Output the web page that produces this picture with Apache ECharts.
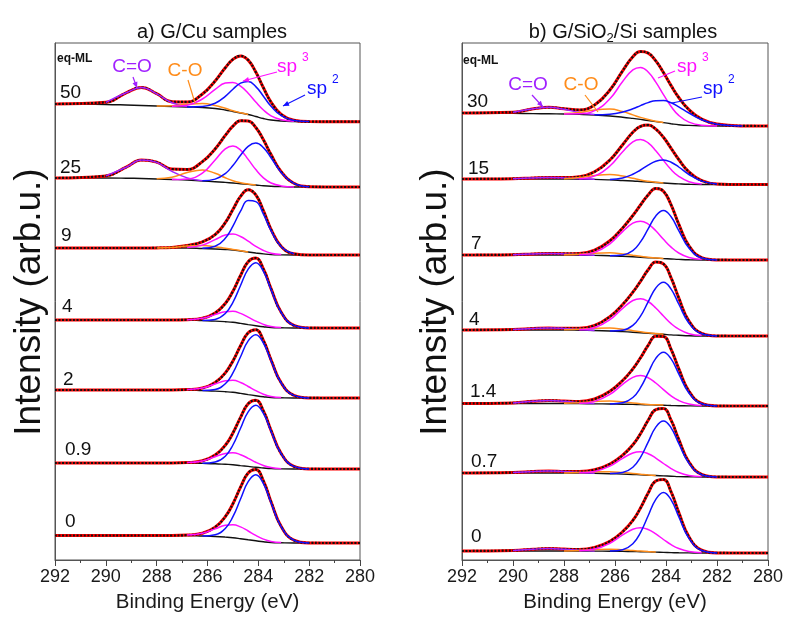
<!DOCTYPE html>
<html>
<head>
<meta charset="utf-8">
<title>C 1s spectra</title>
<script src="https://cdn.jsdelivr.net/npm/echarts@6/dist/echarts.min.js"></script>
<style>
  html, body { margin: 0; padding: 0; background: #fff; }
  #chart { width: 791px; height: 625px; }
</style>
</head>
<body>
<div id="chart"></div>
<script>
// binding energy samples (eV), shared by every curve
const energy = [292, 290, 289.2, 288.6, 288, 287.4, 286.8, 286.2, 285.7, 285.3, 285.0, 284.7, 284.4, 284.1, 283.8, 283.5, 283.1, 282.6, 282, 281, 280]

// ---- a) G/Cu samples, top to bottom ----
const cuLabels = ['50', '25', '9', '4', '2', '0.9', '0']
// background line (already includes the vertical offset of each spectrum)
const cuBackground = [
  [456, 455.5, 455, 454.5, 454, 453.5, 453, 452.5, 451.5, 450, 448.5, 447, 445.5, 443.5, 441.5, 440, 439, 438.5, 438.3, 438.3, 438.3],
  [382, 382, 381.8, 381.5, 381, 380.5, 380, 379, 378.3, 377.6, 377, 376.3, 375.6, 375, 374.3, 373.8, 373.4, 373, 373, 373, 373],
  [312, 312, 312, 312, 312, 312, 312, 311.5, 311, 310.5, 310, 309, 308, 307, 306.1, 305.4, 305.1, 305, 305, 305, 305],
  [240, 240, 240, 240, 240, 240, 240, 239.4, 238.9, 238.3, 237.7, 236.6, 235.4, 234.3, 233.3, 232.5, 232.2, 232, 232, 232, 232],
  [170, 170, 170, 170, 170, 170, 170, 169.4, 168.9, 168.3, 167.7, 166.6, 165.4, 164.3, 163.3, 162.5, 162.2, 162, 162, 162, 162],
  [97, 97, 97, 97, 97, 97, 97, 96.6, 96.2, 95.7, 95.3, 94.4, 93.6, 92.7, 92, 91.4, 91.1, 91, 91, 91, 91],
  [24.5, 24.5, 24.5, 24.5, 24.5, 24.5, 24.5, 24, 23.5, 22.9, 22.3, 21.3, 20.2, 19.2, 18.2, 17.5, 17.2, 17, 17, 17, 17]
]
// fitted components, height above the background
const cuSp2 = [
  [0, 0, 0, 0, 0, 0, 0.1, 1, 5.3, 13.7, 22.3, 29.9, 33, 29.9, 22.3, 13.7, 5.3, 1, 0.1, 0, 0],
  [0, 0, 0, 0, 0, 0, 0, 0.3, 2.6, 8.8, 17.5, 28.4, 38.1, 42, 38.1, 28.4, 14.2, 3.7, 0.3, 0, 0],
  [0, 0, 0, 0, 0, 0, 0, 0.3, 2.7, 11.2, 23.9, 39.8, 51.4, 51.4, 39.8, 23.9, 8.2, 1.2, 0, 0, 0],
  [0, 0, 0, 0, 0, 0, 0, 0.1, 1.7, 8.2, 20, 37.9, 55.4, 63, 55.4, 37.9, 15.3, 2.6, 0.1, 0, 0],
  [0, 0, 0, 0, 0, 0, 0, 0.1, 1.6, 7.9, 19.4, 36.7, 53.7, 61, 53.7, 36.7, 14.8, 2.6, 0.1, 0, 0],
  [0, 0, 0, 0, 0, 0, 0, 0.1, 1.7, 8.1, 19.7, 37.3, 54.6, 62, 54.6, 37.3, 15.1, 2.6, 0.1, 0, 0],
  [0, 0, 0, 0, 0, 0, 0, 0.1, 1.8, 8.6, 21, 39.7, 58.1, 66, 58.1, 39.7, 16, 2.8, 0.1, 0, 0]
]
const cuSp3 = [
  [0, 0, 0, 0, 0, 0.2, 1.8, 8.5, 19.1, 26.9, 29, 26.9, 21.3, 14.5, 8.5, 4.2, 1.3, 0.2, 0, 0, 0],
  [0, 0, 0, 0, 0, 0.1, 1.1, 7.8, 21.8, 33.6, 37, 33.6, 25, 15.4, 7.8, 3.2, 0.7, 0.1, 0, 0, 0],
  [0, 0, 0, 0, 0, 0, 0.5, 3.4, 9.4, 14.5, 16, 14.5, 10.8, 6.7, 3.4, 1.4, 0.3, 0, 0, 0, 0],
  [0, 0, 0, 0, 0, 0, 0.3, 2.3, 6.5, 10, 11, 10, 7.4, 4.6, 2.3, 1, 0.2, 0, 0, 0, 0],
  [0, 0, 0, 0, 0, 0, 0.4, 2.5, 7.1, 10.9, 12, 10.9, 8.1, 5, 2.5, 1, 0.2, 0, 0, 0, 0],
  [0, 0, 0, 0, 0, 0, 0.4, 2.5, 7.1, 10.9, 12, 10.9, 8.1, 5, 2.5, 1, 0.2, 0, 0, 0, 0],
  [0, 0, 0, 0, 0, 0, 0.4, 2.7, 7.6, 11.8, 13, 11.8, 8.8, 5.4, 2.7, 1.1, 0.3, 0, 0, 0, 0]
]
const cuCO = [
  [0, 0, 0, 0, 0.1, 0.8, 2.7, 4, 3.1, 1.7, 0.8, 0.3, 0.1, 0, 0, 0, 0, 0, 0, 0, 0],
  [0, 0, 0, 0, 0.3, 2.3, 7.4, 11, 8.4, 4.6, 2.3, 1, 0.3, 0.1, 0, 0, 0, 0, 0, 0, 0],
  [0, 0, 0, 0, 0.1, 0.6, 2, 3, 2.3, 1.2, 0.6, 0.3, 0.1, 0, 0, 0, 0, 0, 0, 0, 0],
  null, null, null, null
]
const cuCdO = [
  [0, 2.2, 12.2, 18, 12.2, 3.8, 0.5, 0, 0, 0, 0, 0, 0, 0, 0, 0, 0, 0, 0, 0, 0],
  [0, 2.1, 11, 18.4, 16.6, 8.1, 2.1, 0.3, 0, 0, 0, 0, 0, 0, 0, 0, 0, 0, 0, 0, 0],
  null, null, null, null, null
]

// ---- b) G/SiO2/Si samples, top to bottom ----
const siLabels = ['30', '15', '7', '4', '1.4', '0.7', '0']
const siBackground = [
  [447, 446.6, 446.4, 446.2, 446, 445.6, 445, 444, 442.8, 441.6, 440.6, 439.5, 438.4, 437.4, 436.3, 435.3, 434.6, 434.2, 434, 434, 434],
  [381, 381, 381, 381, 381, 380.8, 380.6, 380.1, 379.5, 379, 378.5, 378, 377.5, 377, 376.5, 376.1, 375.7, 375.5, 375.5, 375.5, 375.5],
  [305, 305, 305, 305, 305, 304.8, 304.6, 304.2, 303.7, 303.2, 302.8, 302.3, 301.9, 301.4, 301, 300.6, 300.2, 300, 300, 300, 300],
  [230, 230, 230, 230, 230, 229.8, 229.5, 229, 228.4, 227.8, 227.3, 226.8, 226.2, 225.7, 225.1, 224.7, 224.2, 224, 224, 224, 224],
  [156.5, 156.5, 156.5, 156.5, 156.5, 156.4, 156.2, 156, 155.8, 155.6, 155.4, 155.2, 155, 154.8, 154.5, 154.3, 154.1, 154, 154, 154, 154],
  [87, 87, 87, 87, 87, 86.9, 86.7, 86.3, 85.9, 85.5, 85.2, 84.8, 84.5, 84.1, 83.8, 83.4, 83.2, 83, 83, 83, 83],
  [9, 9, 9, 9, 9, 9, 8.9, 8.8, 8.6, 8.4, 8.3, 8.1, 7.9, 7.6, 7.4, 7.2, 7.1, 7, 7, 7, 7]
]
const siSp2 = [
  [0, 0, 0, 0, 0, 0, 0.3, 1.8, 5.1, 9.6, 13.8, 17.9, 20.9, 22, 20.9, 17.9, 12.4, 6.1, 1.8, 0.1, 0],
  [0, 0, 0, 0, 0, 0, 0, 0.5, 2.6, 6.7, 11.5, 16.9, 21.3, 23, 21.3, 16.9, 9.8, 3.4, 0.5, 0, 0],
  [0, 0, 0, 0, 0, 0, 0, 0.1, 1.3, 6.2, 15.3, 28.8, 42.2, 48, 42.2, 28.8, 11.7, 2, 0.1, 0, 0],
  [0, 0, 0, 0, 0, 0, 0, 0.1, 1.4, 6.8, 16.5, 31.3, 45.8, 52, 45.8, 31.3, 12.6, 2.2, 0.1, 0, 0],
  [0, 0, 0, 0, 0, 0, 0, 0.1, 1.4, 6.9, 16.9, 31.9, 46.6, 53, 46.6, 31.9, 12.9, 2.2, 0.1, 0, 0],
  [0, 0, 0, 0, 0, 0, 0, 0.1, 1.5, 7.2, 17.5, 33.1, 48.4, 55, 48.4, 33.1, 13.4, 2.3, 0.1, 0, 0],
  [0, 0, 0, 0, 0, 0, 0, 0.1, 1.6, 7.8, 19.1, 36.1, 52.8, 60, 52.8, 36.1, 14.6, 2.5, 0.1, 0, 0]
]
const siSp3 = [
  [0, 0, 0, 0, 0.1, 0.6, 4.3, 17.2, 35.7, 48.5, 52, 48.5, 39.4, 27.9, 17.2, 9.3, 3.3, 0.6, 0.1, 0, 0],
  [0, 0, 0, 0, 0, 0.5, 3.5, 13.9, 28.8, 39.2, 42, 39.2, 31.8, 22.6, 13.9, 7.5, 2.6, 0.5, 0, 0, 0],
  [0, 0, 0, 0, 0, 0.4, 3, 11.9, 24.7, 33.6, 36, 33.6, 27.3, 19.3, 11.9, 6.4, 2.3, 0.4, 0, 0, 0],
  [0, 0, 0, 0, 0, 0.4, 2.8, 11.3, 23.3, 31.7, 34, 31.7, 25.8, 18.3, 11.3, 6.1, 2.1, 0.4, 0, 0, 0],
  [0, 0, 0, 0, 0, 0.3, 2.4, 9.6, 19.9, 27.1, 29, 27.1, 22, 15.6, 9.6, 5.2, 1.8, 0.3, 0, 0, 0],
  [0, 0, 0, 0, 0, 0.3, 1.9, 7.6, 15.8, 21.5, 23, 21.5, 17.4, 12.4, 7.6, 4.1, 1.4, 0.3, 0, 0, 0],
  [0, 0, 0, 0, 0, 0.3, 2, 7.9, 16.5, 22.4, 24, 22.4, 18.2, 12.9, 7.9, 4.3, 1.5, 0.3, 0, 0, 0]
]
const siCO = [
  [0, 0, 0, 0, 0.4, 2, 5.1, 7, 5.6, 3.5, 2, 1, 0.4, 0.2, 0, 0, 0, 0, 0, 0, 0],
  [0, 0, 0, 0, 0.3, 1.6, 4, 5.5, 4.4, 2.8, 1.6, 0.8, 0.3, 0.1, 0, 0, 0, 0, 0, 0, 0],
  [0, 0, 0, 0, 0.2, 0.9, 2.2, 3, 2.4, 1.5, 0.9, 0.4, 0.2, 0.1, 0, 0, 0, 0, 0, 0, 0],
  [0, 0, 0, 0, 0.2, 0.9, 2.2, 3, 2.4, 1.5, 0.9, 0.4, 0.2, 0.1, 0, 0, 0, 0, 0, 0, 0],
  [0, 0, 0, 0, 0.2, 0.9, 2.2, 3, 2.4, 1.5, 0.9, 0.4, 0.2, 0.1, 0, 0, 0, 0, 0, 0, 0],
  [0, 0, 0, 0, 0.1, 0.6, 1.5, 2, 1.6, 1, 0.6, 0.3, 0.1, 0, 0, 0, 0, 0, 0, 0, 0],
  [0, 0, 0, 0, 0.1, 0.6, 1.5, 2, 1.6, 1, 0.6, 0.3, 0.1, 0, 0, 0, 0, 0, 0, 0, 0]
]
const siCdO = [
  [0, 1.2, 4.8, 6.5, 4.8, 1.9, 0.4, 0, 0, 0, 0, 0, 0, 0, 0, 0, 0, 0, 0, 0, 0],
  [0, 0.3, 1.1, 1.5, 1.1, 0.4, 0.1, 0, 0, 0, 0, 0, 0, 0, 0, 0, 0, 0, 0, 0, 0],
  [0, 0.3, 1.1, 1.5, 1.1, 0.4, 0.1, 0, 0, 0, 0, 0, 0, 0, 0, 0, 0, 0, 0, 0, 0],
  [0, 0.4, 1.5, 2, 1.5, 0.6, 0.1, 0, 0, 0, 0, 0, 0, 0, 0, 0, 0, 0, 0, 0, 0],
  [0, 0.6, 2.2, 3, 2.2, 0.9, 0.2, 0, 0, 0, 0, 0, 0, 0, 0, 0, 0, 0, 0, 0, 0],
  [0, 0.4, 1.5, 2, 1.5, 0.6, 0.1, 0, 0, 0, 0, 0, 0, 0, 0, 0, 0, 0, 0, 0, 0],
  [0, 0.5, 1.8, 2.5, 1.8, 0.7, 0.2, 0, 0, 0, 0, 0, 0, 0, 0, 0, 0, 0, 0, 0, 0]
]

const FONT = '"Liberation Sans", Arial, sans-serif'
const COLORS = { sp2: '#1010ff', sp3: '#ff10ff', co: '#ff8c1a', cdo: '#a020ff', fit: '#ff0000' }

const series = []

const lineSeries = (gridIndex, data, color, width, z, type) => ({
  type: 'line',
  xAxisIndex: gridIndex,
  yAxisIndex: gridIndex,
  data: data,
  smooth: 0.45,
  symbol: 'none',
  silent: true,
  z: z,
  lineStyle: { color: color, width: width, type: type || 'solid', cap: 'butt' }
})

// components are drawn on top of the background, only where they are non-zero
const component = (bg, comp) => energy.map((e, i) => comp[i] > 0 ? [e, bg[i] + comp[i]] : [e, '-'])

const addPanel = (gridIndex, bgRows, sp2Rows, sp3Rows, coRows, cdoRows) => {
  bgRows.forEach((bg, k) => {
    const co = coRows[k], cdo = cdoRows[k]
    const total = energy.map((e, i) => [e, bg[i] + sp2Rows[k][i] + sp3Rows[k][i] + (co ? co[i] : 0) + (cdo ? cdo[i] : 0)])
    series.push(lineSeries(gridIndex, energy.map((e, i) => [e, bg[i]]), '#111', 1.4, 2))
    series.push(lineSeries(gridIndex, total, COLORS.fit, 3, 3))
    // measured points: dense black dots along the envelope
    series.push(lineSeries(gridIndex, total, '#111', 2.2, 4, [2, 1.6]))
    if (cdo) series.push(lineSeries(gridIndex, component(bg, cdo), COLORS.cdo, 1.5, 5))
    if (co) series.push(lineSeries(gridIndex, component(bg, co), COLORS.co, 1.5, 5))
    series.push(lineSeries(gridIndex, component(bg, sp3Rows[k]), COLORS.sp3, 1.5, 5))
    series.push(lineSeries(gridIndex, component(bg, sp2Rows[k]), COLORS.sp2, 1.5, 5))
  })
}
addPanel(0, cuBackground, cuSp2, cuSp3, cuCO, cuCdO)
addPanel(1, siBackground, siSp2, siSp3, siCO, siCdO)

const xAxisBase = (gridIndex) => ({
  type: 'value',
  gridIndex: gridIndex,
  min: 280,
  max: 292,
  interval: 2,
  inverse: true,
  axisLine: { show: true, lineStyle: { color: '#555', width: 1 } },
  axisTick: { show: true, inside: false, length: 6, lineStyle: { color: '#444' } },
  minorTick: { show: true, splitNumber: 2, length: 3, lineStyle: { color: '#444' } },
  splitLine: { show: false },
  axisLabel: { fontSize: 18, color: '#1a1a1a', fontFamily: FONT, margin: 8 },
  name: 'Binding Energy (eV)',
  nameLocation: 'middle',
  nameGap: 32,
  nameTextStyle: { fontSize: 20.5, color: '#1a1a1a', fontFamily: FONT }
})
const yAxisBase = (gridIndex) => ({
  type: 'value',
  gridIndex: gridIndex,
  min: 0,
  max: 517,
  axisLine: { show: true, lineStyle: { color: '#555' } },
  axisTick: { show: false },
  axisLabel: { show: false },
  splitLine: { show: false }
})

// text helpers for the graphic layer
const text = (x, y, str, size, color, opts) => Object.assign({
  type: 'text', x: x, y: y, silent: true, z: 100,
  style: Object.assign({ text: str, fontSize: size, fontFamily: FONT, fill: color || '#111', align: 'left', verticalAlign: 'middle' }, (opts && opts.style) || {})
}, opts && opts.rotation ? { rotation: opts.rotation } : {})

const arrow = (x1, y1, x2, y2, color, head) => {
  const items = [{ type: 'line', silent: true, z: 100, shape: { x1: x1, y1: y1, x2: x2, y2: y2 }, style: { stroke: color, lineWidth: 1.2 } }]
  if (head) {
    const a = Math.atan2(y2 - y1, x2 - x1), L = 6, W = 2.6
    const bx = x2 - L * Math.cos(a), by = y2 - L * Math.sin(a)
    items.push({
      type: 'polygon', silent: true, z: 100,
      shape: { points: [[x2, y2], [bx + W * Math.sin(a), by - W * Math.cos(a)], [bx - W * Math.sin(a), by + W * Math.cos(a)]] },
      style: { fill: color }
    })
  }
  return items
}

const cuLabelPos = [[60, 93], [60, 168], [61, 236], [62, 307], [63, 380], [65, 450], [65, 522]]
const siLabelPos = [[467, 102], [468, 169], [471, 244], [469, 320], [470, 392], [471, 462], [471, 537]]

const graphic = [
  text(212, 32, 'a) G/Cu samples', 20, '#111', { style: { align: 'center' } }),
  {
    type: 'text', x: 623, y: 32, silent: true, z: 100,
    style: {
      text: '{m|b) G/SiO}{s|2}{m|/Si samples}', align: 'center', verticalAlign: 'middle',
      rich: {
        m: { fontSize: 20, fontFamily: FONT, fill: '#111', lineHeight: 24 },
        s: { fontSize: 13, fontFamily: FONT, fill: '#111', lineHeight: 24, padding: [12, 0, 0, 0] }
      }
    }
  },
  text(30, 302, 'Intensity (arb.u.)', 37, '#111', { rotation: Math.PI / 2, style: { align: 'center' } }),
  text(436, 302, 'Intensity (arb.u.)', 37, '#111', { rotation: Math.PI / 2, style: { align: 'center' } }),
  text(57, 59, 'eq-ML', 12, '#111', { style: { fontWeight: 'bold' } }),
  text(463, 61, 'eq-ML', 12, '#111', { style: { fontWeight: 'bold' } }),
  // panel a annotations
  text(132, 67, 'C=O', 19, COLORS.cdo, { style: { align: 'center' } }),
  text(185, 71, 'C-O', 19, COLORS.co, { style: { align: 'center' } }),
  text(277, 67, 'sp', 19, COLORS.sp3),
  text(302, 58, '3', 12, COLORS.sp3),
  text(307, 89, 'sp', 19, COLORS.sp2),
  text(332, 80, '2', 12, COLORS.sp2),
  // panel b annotations
  text(528, 85, 'C=O', 19, COLORS.cdo, { style: { align: 'center' } }),
  text(581, 85, 'C-O', 19, COLORS.co, { style: { align: 'center' } }),
  text(677, 67, 'sp', 19, COLORS.sp3),
  text(702, 58, '3', 12, COLORS.sp3),
  text(703, 89, 'sp', 19, COLORS.sp2),
  text(728, 80, '2', 12, COLORS.sp2)
]
  .concat(arrow(133, 77, 137, 88, COLORS.cdo, true))
  .concat(arrow(188, 80, 195, 103, COLORS.co, false))
  .concat(arrow(277, 72, 243, 81, COLORS.sp3, true))
  .concat(arrow(305, 95, 283, 106, COLORS.sp2, true))
  .concat(arrow(532, 95, 543, 107, COLORS.cdo, true))
  .concat(arrow(585, 95, 598, 112, COLORS.co, false))
  .concat(arrow(675, 71, 658, 78, COLORS.sp3, false))
  .concat(arrow(702, 97, 672, 103, COLORS.sp2, false))
  .concat(cuLabels.map((t, k) => text(cuLabelPos[k][0], cuLabelPos[k][1], t, 19, '#111')))
  .concat(siLabels.map((t, k) => text(siLabelPos[k][0], siLabelPos[k][1], t, 19, '#111')))

const myChart = echarts.init(document.getElementById('chart'), null, { renderer: 'canvas' })
myChart.setOption({
  animation: false,
  backgroundColor: '#fff',
  grid: [
    { left: 55, top: 43, width: 305, height: 517, show: true, borderColor: '#555', borderWidth: 1 },
    { left: 462, top: 43, width: 306, height: 517, show: true, borderColor: '#555', borderWidth: 1 }
  ],
  xAxis: [xAxisBase(0), xAxisBase(1)],
  yAxis: [yAxisBase(0), yAxisBase(1)],
  series: series,
  graphic: graphic
})
</script>
</body>
</html>
